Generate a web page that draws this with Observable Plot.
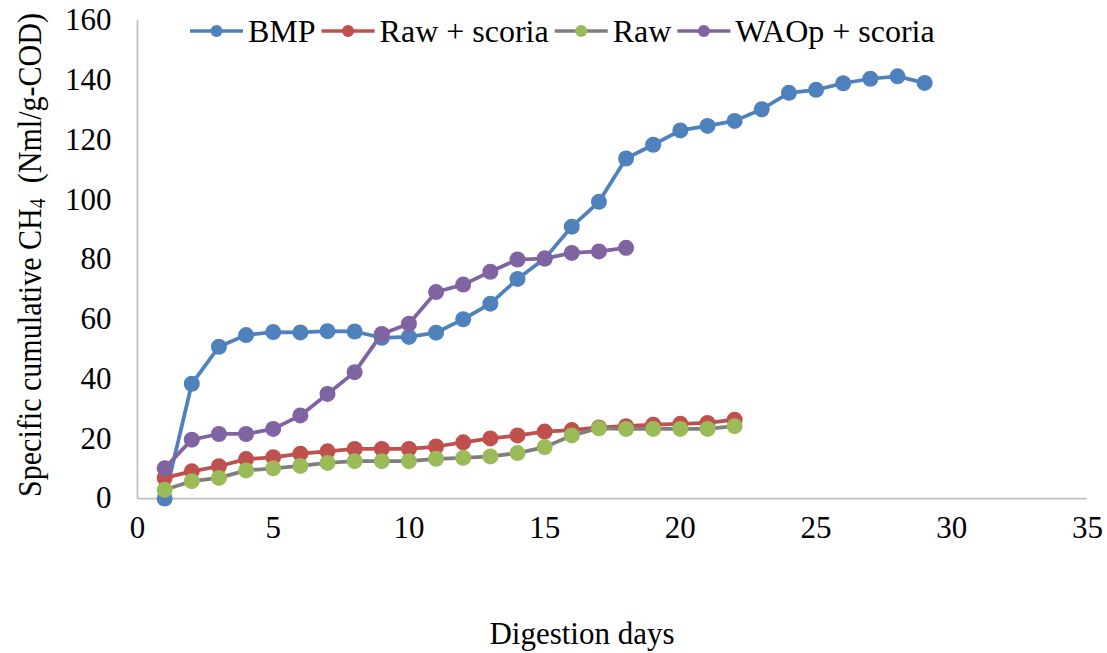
<!DOCTYPE html>
<html><head><meta charset="utf-8">
<script src="https://cdn.jsdelivr.net/npm/d3@7"></script>
<script src="https://cdn.jsdelivr.net/npm/@observablehq/plot@0.6"></script>
<style>
body{margin:0;background:#fff}
#chart{position:relative;width:1107px;height:653px}
</style>
</head><body><div id="chart"></div>
<script>
// ---- data ----
const seriesNames = ["BMP", "Raw + scoria", "Raw", "WAOp + scoria"];
const lineColors = ["#4f81bd", "#c0504d", "#7f7f7f", "#8064a2"];
const markerColors = ["#4f81bd", "#c0504d", "#9bbb59", "#8064a2"];

const daysBMP = [1,2,3,4,5,6,7,8,9,10,11,12,13,14,15,16,17,18,19,20,21,22,23,24,25,26,27,28,29];
const bmp = [0, 38.4, 50.8, 54.7, 55.7, 55.6, 56.0, 55.9, 53.8, 54.1, 55.5, 60.0, 65.2, 73.5, 80.3, 91.0, 99.3, 113.8, 118.4, 123.2, 124.7, 126.4, 130.3, 135.8, 136.8, 139.0, 140.5, 141.3, 139.1];

const daysRaw = [1,2,3,4,5,6,7,8,9,10,11,12,13,14,15,16,17,18,19,20,21,22];
const rawScoria = [6.9, 9.1, 10.8, 13.2, 13.8, 15.0, 15.8, 16.6, 16.6, 16.6, 17.4, 18.8, 20.1, 21.1, 22.4, 22.9, 23.8, 24.2, 24.7, 25.0, 25.3, 26.4];
const raw = [2.9, 5.8, 6.9, 9.4, 10.1, 10.9, 11.9, 12.5, 12.5, 12.5, 13.3, 13.6, 14.1, 15.2, 17.2, 21.1, 23.5, 23.3, 23.3, 23.3, 23.3, 24.2];

const daysWAOp = [1,2,3,4,5,6,7,8,9,10,11,12,13,14,15,16,17,18];
const waop = [10.1, 19.7, 21.6, 21.6, 23.3, 27.8, 35.0, 42.3, 55.1, 58.5, 69.1, 71.6, 75.9, 80.0, 80.3, 82.2, 82.7, 83.9];

const xTicks = [0, 5, 10, 15, 20, 25, 30, 35];
const yTicks = [0, 20, 40, 60, 80, 100, 120, 140, 160];
const xLabel = "Digestion days";

// ---- build ----
const seriesDays = [daysBMP, daysRaw, daysRaw, daysWAOp];
const seriesVals = [bmp, rawScoria, raw, waop];
const tables = seriesVals.map((vals, i) => vals.map((v, j) => ({day: seriesDays[i][j], value: v})));

const FONT = "'Liberation Serif', 'Times New Roman', serif";
const marks = [
  Plot.ruleY([0], {stroke: "#c0c0c0", strokeWidth: 1.75}),
  Plot.ruleX([0], {stroke: "#c0c0c0", strokeWidth: 1.75}),
  Plot.axisX({ticks: xTicks, tickSize: 0, tickPadding: 17, label: null, fontSize: 31}),
  Plot.axisY({ticks: yTicks, tickSize: 0, tickPadding: 26, label: null, fontSize: 31})
];
tables.forEach((t, i) => {
  marks.push(Plot.line(t, {x: "day", y: "value", stroke: lineColors[i], strokeWidth: 3.75}));
  marks.push(Plot.dot(t, {x: "day", y: "value", r: 8, fill: markerColors[i], stroke: "none"}));
});

const svg = Plot.plot({
  width: 1107,
  height: 653,
  marginLeft: 137,
  marginRight: 20,
  marginTop: 20,
  marginBottom: 155,
  x: {domain: [0, 35]},
  y: {domain: [0, 160]},
  style: {fontFamily: FONT, fontSize: "31px", color: "#000", background: "#fff"},
  marks
});
document.getElementById("chart").appendChild(svg);

const s = d3.select(svg);
// y axis title
const yt = s.append("text")
  .attr("transform", "translate(29,255) rotate(-90) scale(1,1.08)")
  .attr("text-anchor", "middle")
  .attr("dominant-baseline", "central")
  .attr("font-family", FONT)
  .attr("font-size", 32)
  .attr("fill", "#000")
  .attr("textLength", 484)
  .attr("lengthAdjust", "spacingAndGlyphs")
  .style("white-space", "pre");
yt.append("tspan").text("Specific cumulative CH");
yt.append("tspan").attr("font-size", 21).attr("dy", 8).text("4");
yt.append("tspan").attr("dy", -8).text("  (Nml/g-COD)");

// x axis title
s.append("text")
  .attr("x", 582).attr("y", 633)
  .attr("text-anchor", "middle")
  .attr("dominant-baseline", "central")
  .attr("font-family", FONT)
  .attr("font-size", 31)
  .attr("fill", "#000")
  .text(xLabel);

// legend
const lg = s.append("g").attr("transform", "translate(0,31)");
let lx = 190;
seriesNames.forEach((name, i) => {
  lg.append("line").attr("x1", lx).attr("x2", lx + 53).attr("y1", 0).attr("y2", 0)
    .attr("stroke", lineColors[i]).attr("stroke-width", 3.5);
  lg.append("circle").attr("cx", lx + 26.5).attr("cy", 0).attr("r", 6).attr("fill", markerColors[i]);
  const t = lg.append("text").attr("x", lx + 58).attr("y", 0)
    .attr("text-anchor", "start")
    .attr("dominant-baseline", "central")
    .attr("font-family", FONT).attr("font-size", 32).attr("fill", "#000")
    .text(name);
  lx += 58 + t.node().getComputedTextLength() + 6;
});
</script>
</body></html>
